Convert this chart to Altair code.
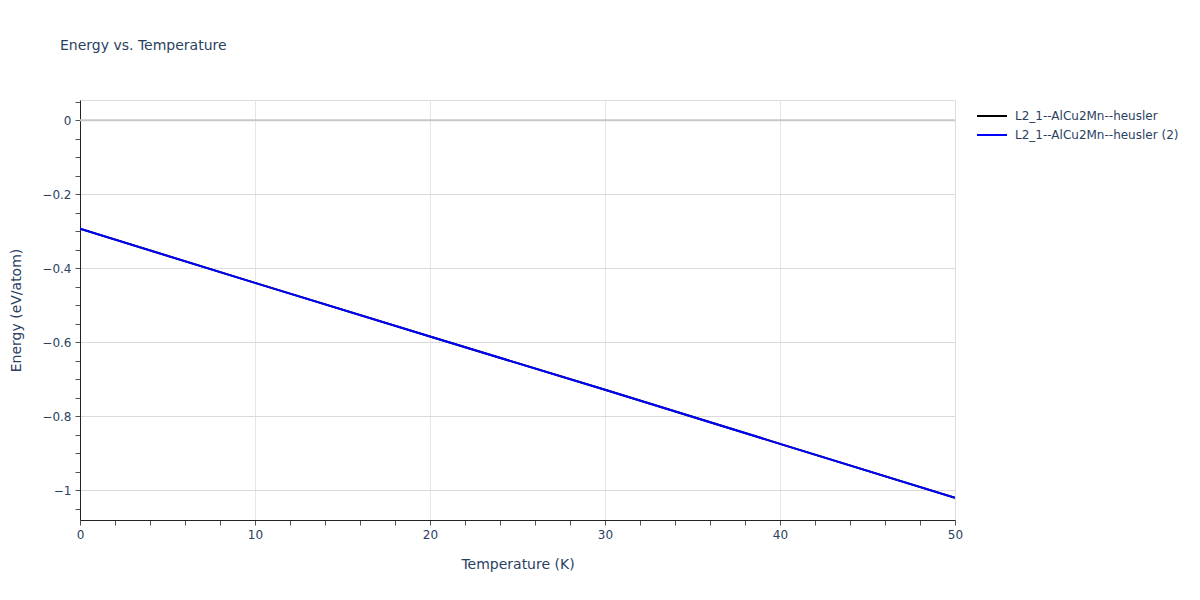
import altair as alt
import pandas as pd

series_names = ["L2_1--AlCu2Mn--heusler", "L2_1--AlCu2Mn--heusler (2)"]
series_colors = ["#000000", "#0000ff"]
temps = [0, 10, 20, 30, 40, 50]
energy_1 = [-0.293, -0.439, -0.584, -0.728, -0.874, -1.020]
energy_2 = [-0.293, -0.439, -0.584, -0.728, -0.874, -1.020]
x_ticks = [0, 2, 4, 6, 8, 10, 12, 14, 16, 18, 20, 22, 24, 26, 28, 30, 32, 34, 36, 38, 40, 42, 44, 46, 48, 50]
y_ticks = [0.05, 0.0, -0.05, -0.1, -0.15, -0.2, -0.25, -0.3, -0.35, -0.4, -0.45, -0.5,
           -0.55, -0.6, -0.65, -0.7, -0.75, -0.8, -0.85, -0.9, -0.95, -1.0, -1.05]

rows = []
for i, (name, vals) in enumerate(zip(series_names, [energy_1, energy_2])):
    for t, e in zip(temps, vals):
        rows.append({"T": t, "E": e, "series": name, "order": i})
df = pd.DataFrame(rows)

FONT = "DejaVu Sans"
TXT = "#2a3f5f"

x_scale = alt.Scale(domain=[0, 50], nice=False, zero=False)
y_scale = alt.Scale(domain=[-1.0797, 0.055], nice=False, zero=False)

x_axis = alt.Axis(
    values=x_ticks,
    labelExpr="datum.value % 10 === 0 ? datum.label : ''",
    format="~g",
    grid=True,
    gridColor="#e6e6e6",
    gridWidth=1,
    gridOpacity={"condition": {"test": "datum.value % 10 === 0 && datum.value > 0 && datum.value < 50", "value": 1}, "value": 0},
    domainColor="#222222",
    domainWidth=1,
    tickColor="#555555",
    tickSize=5,
    labelFlush=False,
    labelFont=FONT, labelFontSize=12, labelColor=TXT, labelPadding=4,
    title="Temperature (K)", titleFont=FONT, titleFontSize=14, titleColor=TXT,
    titleFontWeight="normal", titlePadding=17,
)

y_axis = alt.Axis(
    values=y_ticks,
    labelExpr="abs(datum.value*5 - round(datum.value*5)) < 0.001 ? format(datum.value, '~g') : ''",
    grid=True,
    gridColor="#dadada",
    gridWidth=1,
    gridOpacity={"condition": {"test": "abs(datum.value*5 - round(datum.value*5)) < 0.001 && abs(datum.value) > 0.001", "value": 1}, "value": 0},
    domainColor="#222222",
    domainWidth=1,
    tickColor="#555555",
    tickSize=5,
    labelFlush=False,
    labelFont=FONT, labelFontSize=12, labelColor=TXT, labelPadding=4,
    title="Energy (eV/atom)", titleFont=FONT, titleFontSize=14, titleColor=TXT,
    titleFontWeight="normal", titlePadding=18,
)

zero_df = pd.DataFrame({"y": [0.0]})
zero = alt.Chart(zero_df).mark_rule(color="#c8c8c8", strokeWidth=2).encode(
    y=alt.Y("y:Q", scale=y_scale, axis=y_axis)
)

lines = alt.Chart(df).mark_line(strokeWidth=2, clip=True).encode(
    x=alt.X("T:Q", scale=x_scale, axis=x_axis),
    y=alt.Y("E:Q", scale=y_scale, axis=y_axis),
    color=alt.Color(
        "series:N",
        scale=alt.Scale(domain=series_names, range=series_colors),
        legend=alt.Legend(
            title=None, orient="none", legendX=901, legendY=5,
            symbolType="M-1.5,0H1.5", symbolSize=400, symbolStrokeWidth=2,
            labelFont=FONT, labelFontSize=12, labelColor=TXT, labelLimit=400,
            labelOffset=12, rowPadding=2, padding=0,
        ),
    ),
    order=alt.Order("order:Q"),
    detail="series:N",
)

chart = alt.layer(zero, lines).properties(
    width=875,
    height=420,
    autosize=alt.AutoSizeParams(type="none"),
    padding={"left": 72, "top": 92, "right": 228, "bottom": 70},
    title=alt.TitleParams(
        "Energy vs. Temperature", anchor="start", frame="group", dx=-20, offset=47,
        font=FONT, fontSize=14, fontWeight="normal", color=TXT,
    ),
).configure_view(stroke=None).configure(background="white")

chart.save("out.html", embed_options={"renderer": "svg", "actions": False})
